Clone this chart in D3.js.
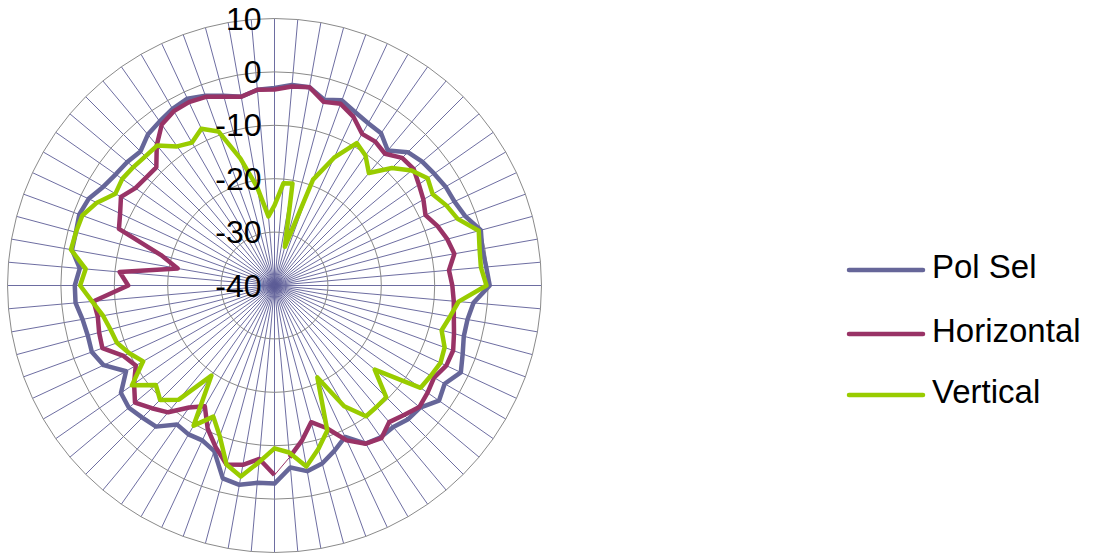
<!DOCTYPE html>
<html><head><meta charset="utf-8">
<script src="https://cdn.jsdelivr.net/npm/d3@7"></script>
<style>html,body{margin:0;padding:0;background:#fff;} svg{display:block;}</style>
</head><body>
<svg id="chart" width="1103" height="553"></svg>
<script>
// Categories: angle in degrees (72 spokes)
const categories = [0,5,10,15,20,25,30,35,40,45,50,55,60,65,70,75,80,85,90,95,100,105,110,115,120,125,130,135,140,145,150,155,160,165,170,175,180,185,190,195,200,205,210,215,220,225,230,235,240,245,250,255,260,265,270,275,280,285,290,295,300,305,310,315,320,325,330,335,340,345,350,355];
const tickValues = [10,0,-10,-20,-30,-40];
const seriesNames = ["Pol Sel","Horizontal","Vertical"];
const seriesColors = ["#666699","#993366","#99cc00"];

const polSel = [
-3.0,-2.3,-2.3,-4.0,-3.1,-4.2,-4.9,-5.2,-7.0,-4.7,
-3.9,-3.5,-3.0,-2.8,-2.0,0.0,-0.5,-0.2,0.3,
-2.6,-3.3,-3.3,-2.5,-1.5,-3.2,-2.4,-4.4,-4.6,
-5.4,-5.3,-5.8,-8.7,-7.1,-5.5,-4.7,-5.8,-2.9,
-2.9,-2.1,-2.6,-7.0,-8.0,-7.8,-8.2,-5.5,-5.0,
-4.4,-4.9,-7.9,-4.7,-3.6,-3.8,-3.5,-2.6,-2.6,
-3.4,-1.5,-1.5,-1.1,-1.6,-3.0,-3.7,-4.0,-4.5,
-3.1,-2.5,-1.8,-1.4,-2.2,-3.2,-4.1,-3.2];

const horizontal = [
-3.3,-2.6,-2.3,-4.4,-3.8,-5.1,-7.2,-7.1,-7.8,-6.2,
-6.0,-7.0,-7.8,-8.8,-7.5,-6.5,-5.8,-7.2,-6.7,
-6.3,-5.9,-5.2,-4.4,-4.5,-5.5,-5.0,-4.6,-5.7,
-6.6,-5.1,-5.8,-8.0,-11.6,-13.5,-10.5,-7.7,-4.5,
-7.4,-5.9,-5.3,-7.8,-10.4,-13.9,-12.1,-9.0,-7.5,
-5.9,-7.9,-10.0,-8.8,-5.7,-6.0,-6.4,-6.0,-12.6,
-10.9,-21.6,-18.0,-9.0,-8.1,-6.8,-8.2,-8.6,-8.7,
-5.7,-3.2,-2.3,-2.1,-2.4,-3.4,-4.1,-3.2];

const vertical = [
-25.0,-20.8,-20.6,-32.5,-18.9,-13.6,-9.2,-10.3,-12.5,-8.9,
-6.5,-5.0,-5.8,-4.5,-3.5,-0.4,-1.0,-1.2,-0.3,
-5.4,-6.6,-7.6,-6.1,-5.7,-6.2,-6.6,-15.5,-10.4,
-10.3,-10.1,-13.9,-21.0,-11.1,-8.3,-5.6,-8.6,-9.5,
-6.8,-3.7,-5.3,-10.0,-12.9,-9.7,-19.4,-12.1,-9.7,
-11.0,-7.4,-11.6,-10.0,-8.6,-8.2,-7.4,-5.7,-3.6,
-4.5,-1.3,-1.5,-1.7,-3.3,-5.6,-5.2,-5.5,-5.8,
-5.8,-8.2,-9.1,-7.6,-9.3,-15.4,-21.3,-27.0];

const seriesValues = [polSel, horizontal, vertical];
// index of the Horizontal segment drawn as a thin connector (175° -> 180°)
const thinFrom = 35;

const cx = 274.5, cy = 285.5, R = 267;
const svg = d3.select("#chart");
const rScale = d3.scaleLinear().domain([-40, 10]).range([0, R]);
const aScale = d3.scaleLinear().domain([0, 360]).range([0, 2 * Math.PI]);

const g = svg.append("g").attr("transform", `translate(${cx},${cy})`);

// spokes
g.append("g").selectAll("line").data(categories).join("line")
  .attr("x1", 0).attr("y1", 0)
  .attr("x2", d => rScale(10) * Math.sin(aScale(d)))
  .attr("y2", d => -rScale(10) * Math.cos(aScale(d)))
  .attr("stroke", "#5c5c96").attr("stroke-width", 0.9);

// rings (polygons)
const ringLine = t => d3.lineRadial()
  .angle(d => aScale(d)).radius(() => rScale(t))
  .curve(d3.curveLinearClosed);
g.append("g").selectAll("path").data(tickValues.filter(t => t > -40)).join("path")
  .attr("d", t => ringLine(t)(categories))
  .attr("fill", "none").attr("stroke", "#8a8a8a").attr("stroke-width", 1);

// series
const closedLine = d3.lineRadial()
  .angle(d => aScale(d.c)).radius(d => rScale(d.v))
  .curve(d3.curveLinearClosed);
const openLine = d3.lineRadial()
  .angle(d => aScale(d.c)).radius(d => rScale(d.v))
  .curve(d3.curveLinear);
seriesValues.forEach((vals, i) => {
  const pts = categories.map((c, k) => ({c, v: vals[k]}));
  if (i === 1) {
    const rotated = pts.slice(thinFrom + 1).concat(pts.slice(0, thinFrom + 1));
    g.append("path")
      .attr("d", openLine(rotated))
      .attr("fill", "none").attr("stroke", seriesColors[i])
      .attr("stroke-width", 4.5).attr("stroke-linejoin", "round");
    g.append("path")
      .attr("d", openLine([pts[thinFrom], pts[thinFrom + 1]]))
      .attr("fill", "none").attr("stroke", seriesColors[i])
      .attr("stroke-width", 1);
  } else {
    g.append("path")
      .attr("d", closedLine(pts))
      .attr("fill", "none").attr("stroke", seriesColors[i])
      .attr("stroke-width", 4.5).attr("stroke-linejoin", "round");
  }
});

// axis labels
g.append("g").selectAll("text").data(tickValues).join("text")
  .attr("x", -13).attr("y", t => -rScale(t))
  .attr("text-anchor", "end").attr("dominant-baseline", "central")
  .attr("font-family", "'Liberation Sans', Arial, sans-serif")
  .attr("font-size", 32).attr("fill", "#000")
  .text(t => String(t));

// legend
const legendY = [270, 334, 395];
const lg = svg.append("g");
seriesNames.forEach((name, i) => {
  lg.append("line").attr("x1", 849).attr("x2", 923)
    .attr("y1", legendY[i]).attr("y2", legendY[i])
    .attr("stroke", seriesColors[i]).attr("stroke-width", 4.5)
    .attr("stroke-linecap", "round");
  lg.append("text").attr("x", 932).attr("y", legendY[i] + 8)
    .attr("font-family", "'Liberation Sans', Arial, sans-serif")
    .attr("font-size", 33).attr("fill", "#000")
    .text(name);
});
</script>
</body></html>
